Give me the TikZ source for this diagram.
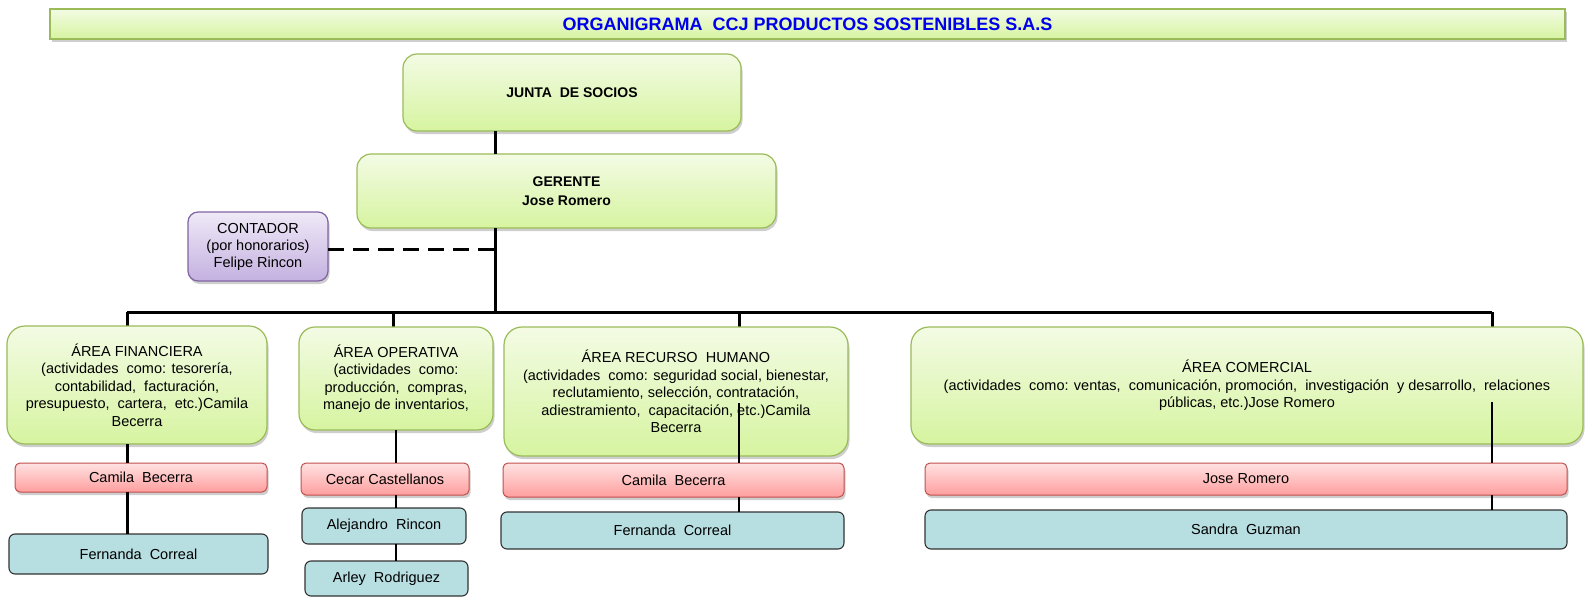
\documentclass[tikz,border=0pt]{standalone}
\usepackage{fontspec}
\setmainfont{Liberation Sans}
\usetikzlibrary{shadows}
\definecolor{gbord}{HTML}{9BBB59}
\definecolor{gtop}{HTML}{F3FBE4}
\definecolor{gbot}{HTML}{D6F4A0}
\definecolor{rbord}{HTML}{C0504D}
\definecolor{rtop}{HTML}{FFE2E2}
\definecolor{rbot}{HTML}{FF9E9E}
\definecolor{bfill}{HTML}{B7DEE1}
\definecolor{bbord}{HTML}{333333}
\definecolor{pbord}{HTML}{8064A2}
\definecolor{ptop}{HTML}{EFE9F7}
\definecolor{pbot}{HTML}{C4B1E0}
\definecolor{titleblue}{RGB}{0,0,235}
\begin{document}
\begin{tikzpicture}[x=1pt,y=-1pt,
  box/.style={rectangle, inner sep=0pt, outer sep=0pt, align=center,
    font=\fontsize{14.5}{17.5}\selectfont, text=black},
  shad/.style={drop shadow={opacity=0.35, shadow xshift=1.5pt, shadow yshift=-3pt, fill=black!55}},
  greenbox/.style={box, shad, draw=gbord, line width=1.2pt, top color=gtop, bottom color=gbot, rounded corners=14pt},
  redbox/.style={box, shad, draw=rbord, line width=1pt, top color=rtop, bottom color=rbot, rounded corners=5pt},
  bluebox/.style={box, draw=bbord, line width=1.1pt, fill=bfill, rounded corners=6pt},
  purplebox/.style={box, shad, draw=pbord, line width=1.2pt, top color=ptop, bottom color=pbot, rounded corners=10pt},
  conn/.style={draw=black, line width=3pt},
  midconn/.style={draw=black, line width=2.2pt},
  thinconn/.style={draw=black, line width=1.7pt},
  dashconn/.style={draw=black, line width=3pt, dash pattern=on 16pt off 9pt}
]
\useasboundingbox (0,0) rectangle (1585,597);

% title
\node[box, shad, draw=gbord, line width=1.2pt, top color=gtop, bottom color=gbot,
  minimum width=1515, minimum height=30,
  font=\fontsize{18}{20}\selectfont\bfseries, text=titleblue] (title) at (807.5,24)
  {ORGANIGRAMA\ \ CCJ PRODUCTOS SOSTENIBLES S.A.S};

% coordinates
\coordinate (bus) at (495,312);
\coordinate (b1) at (127,312);
\coordinate (b2) at (393,312);
\coordinate (b3) at (739,312);
\coordinate (b4) at (1492,312);
\coordinate (dashend) at (495,249);
\coordinate (rhin) at (739,403);
\coordinate (comin) at (1492,402);
\coordinate (opx) at (396,0);

% bus lines (behind boxes)
\draw[conn] (b1) -- (b4);
\draw[conn] (b1) -- ++(0,16);
\draw[conn] (b2) -- ++(0,16);
\draw[conn] (b3) -- ++(0,16);
\draw[conn] (b4) -- ++(0,16);

% nodes
\node[greenbox, minimum width=338, minimum height=77, font=\fontsize{14}{17.5}\selectfont\bfseries] (junta) at (572,92.5) {JUNTA\ \ DE SOCIOS};
\node[greenbox, minimum width=419, minimum height=74, font=\fontsize{14}{19}\selectfont\bfseries] (gerente) at (566.5,191) {GERENTE\\Jose Romero};
\node[purplebox, minimum width=140, minimum height=69, font=\fontsize{14.5}{17}\selectfont] (contador) at (258,246.5) {CONTADOR\\(por honorarios)\\Felipe Rincon};

\node[greenbox, minimum width=260, minimum height=118, rounded corners=18pt] (fin) at (137,385)
  {ÁREA FINANCIERA\\(actividades\ \ como: tesorería,\\contabilidad,\ \ facturación,\\presupuesto,\ \ cartera,\ \ etc.)Camila\\Becerra};
\node[greenbox, minimum width=194, minimum height=103, rounded corners=16pt] (oper) at (396,378.5)
  {ÁREA OPERATIVA\\(actividades\ \ como:\\producción,\ \ compras,\\manejo\ de\ inventarios,};
\node[greenbox, minimum width=344, minimum height=129, rounded corners=18pt] (rrhh) at (676,391.5)
  {ÁREA RECURSO\ \ HUMANO\\(actividades\ \ como: seguridad social, bienestar,\\reclutamiento,\ selección,\ contratación,\\adiestramiento,\ \ capacitación,\ etc.)Camila\\Becerra};
\node[greenbox, minimum width=672, minimum height=117, rounded corners=18pt] (com) at (1247,385.5)
  {ÁREA COMERCIAL\\(actividades\ \ como: ventas,\ \ comunicación, promoción,\ \ investigación\ \ y desarrollo,\ \ relaciones\\públicas, etc.)Jose Romero};

\node[redbox, minimum width=252, minimum height=29] (finr) at (141,477.5) {Camila\ \ Becerra};
\node[bluebox, minimum width=259, minimum height=40] (finb) at (138.5,554) {Fernanda\ \ Correal};

\node[redbox, minimum width=168, minimum height=32] (operr) at (385,479) {Cecar Castellanos};
\node[bluebox, minimum width=164, minimum height=36] (alej) at (384,526) {Alejandro\ \ Rincon};
\node[bluebox, minimum width=163, minimum height=35] (arley) at (386.5,578.5) {Arley\ \ Rodriguez};

\node[redbox, minimum width=341, minimum height=34] (rhr) at (673.5,480) {Camila\ \ Becerra};
\node[bluebox, minimum width=343, minimum height=37] (rhb) at (672.5,530.5) {Fernanda\ \ Correal};

\node[redbox, minimum width=642, minimum height=32] (comr) at (1246,479) {Jose Romero};
\node[bluebox, minimum width=642, minimum height=39] (comb) at (1246,529.5) {Sandra\ \ Guzman};

% top connectors
\draw[conn] (junta.south -| bus) -- (gerente.north -| bus);
\draw[conn] (gerente.south -| bus) -- (bus);
\draw[dashconn] (contador.east |- dashend) -- (dashend);

% area connectors
\draw[conn] (fin.south -| b1) -- (finr.north -| b1);
\draw[conn] (finr.south -| b1) -- (finb.north -| b1);

\draw[midconn] (oper.south -| opx) -- (operr.north -| opx);
\draw[midconn] (operr.south -| opx) -- (alej.north -| opx);
\draw[midconn] (alej.south -| opx) -- (arley.north -| opx);

\draw[thinconn] (rhin) -- (rhr.north -| rhin);
\draw[thinconn] (rhr.south -| rhin) -- (rhb.north -| rhin);

\draw[thinconn] (comin) -- (comr.north -| comin);
\draw[thinconn] (comr.south -| comin) -- (comb.north -| comin);
\end{tikzpicture}
\end{document}
